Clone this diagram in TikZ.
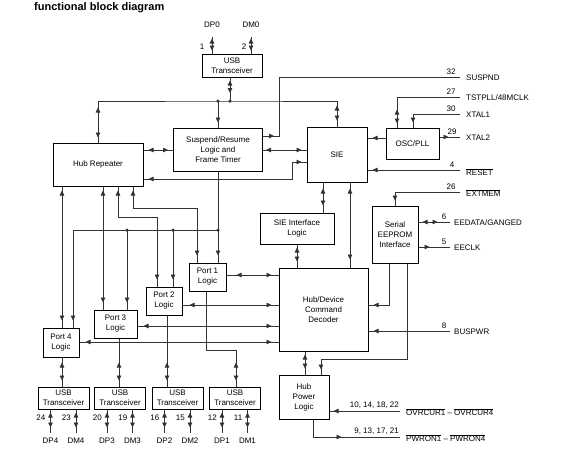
\documentclass[tikz,border=0pt]{standalone}
\usepackage{fontspec}
\setmainfont{Liberation Sans}
\usetikzlibrary{arrows.meta, decorations.markings}

\begin{document}
\begin{tikzpicture}[
    x=1pt, y=-1pt,
    font=\fontsize{8}{10}\selectfont,
    box/.style={draw, line width=1pt, align=center, inner sep=1pt},
    portbox/.style={box, minimum width=37, minimum height=28},
    xcvr/.style={box, minimum width=51, minimum height=22},
    wire/.style={draw=black!80, line width=0.75pt},
    fwd/.style={postaction={decorate, decoration={markings, mark=at position #1 with {\arrow{Triangle[length=5pt, width=4.5pt]}}}}},
    bwd/.style={postaction={decorate, decoration={markings, mark=at position #1 with {\arrowreversed{Triangle[length=5pt, width=4.5pt]}}}}},
    jdot/.style={circle, fill=black!80, inner sep=0pt, minimum size=3.5pt},
    lbl/.style={inner sep=1pt},
]
\useasboundingbox (0,0) rectangle (565,467);

\node[lbl, anchor=base west, font=\fontsize{11}{13}\selectfont\bfseries] (title) at (33,10) {functional block diagram};

\node[box, minimum width=60, minimum height=23] (usb0) at (232,65.5) {USB\\Transceiver};
\node[box, minimum width=90, minimum height=43] (hubrep) at (98,164.5) {Hub Repeater};
\node[box, minimum width=89, minimum height=43] (susp) at (218,149.5) {Suspend/Resume\\Logic and\\Frame Timer};
\node[box, minimum width=60, minimum height=55] (sie) at (337,154.5) {SIE};
\node[box, minimum width=53, minimum height=31] (osc) at (412.5,143.5) {OSC/PLL};
\node[box, minimum width=46, minimum height=57] (eeprom) at (395,234.5) {Serial\\EEPROM\\Interface};
\node[box, minimum width=74, minimum height=31] (sieif) at (297,228.5) {SIE Interface\\Logic};
\node[box, minimum width=89, minimum height=83] (hubdev) at (323.5,309.5) {Hub/Device\\Command\\Decoder};
\node[box, minimum width=50, minimum height=44] (hubpwr) at (304,397) {Hub\\Power\\Logic};

\node[portbox] (port1) at (207.5,277) {Port 1\\Logic};
\node[portbox, minimum width=36] (port2) at (164,301) {Port 2\\Logic};
\node[portbox, minimum width=43] (port3) at (115.5,324) {Port 3\\Logic};
\node[portbox, minimum width=36, minimum height=29] (port4) at (61,342.5) {Port 4\\Logic};

\foreach \p/\cx/\np/\nm in {4/63.5/24/23, 3/120/20/19, 2/177.5/16/15, 1/235/12/11} {
    \node[xcvr] (usb\p) at (\cx,398) {USB\\Transceiver};
    \draw[wire, bwd=3pt, fwd=-5pt] ([xshift=-13pt]usb\p.south) -- ++(0,23) coordinate (dp\p);
    \draw[wire, bwd=3pt, fwd=-5pt] ([xshift=12.5pt]usb\p.south) -- ++(0,23) coordinate (dm\p);
    \node[lbl, below=4pt] (ldp\p) at (dp\p) {DP\p};
    \node[lbl, below=4pt] (ldm\p) at (dm\p) {DM\p};
    \node[lbl, anchor=east] (ndp\p) at ([xshift=-17pt, yshift=-8pt]usb\p.south) {\np};
    \node[lbl, anchor=east] (ndm\p) at ([xshift=8.5pt, yshift=-8pt]usb\p.south) {\nm};
}

% upstream port
\draw[wire, bwd=3pt, fwd=-2pt] ([xshift=-20pt]usb0.north) -- ++(0,-17) coordinate (dp0);
\draw[wire, bwd=3pt, fwd=-2pt] ([xshift=19pt]usb0.north) -- ++(0,-17) coordinate (dm0);
\node[lbl, above=8pt] (ldp0) at (dp0) {DP0};
\node[lbl, above=8pt] (ldm0) at (dm0) {DM0};
\node[lbl] (ndp0) at (202,47) {1};
\node[lbl] (ndm0) at (244,47) {2};

\coordinate (jt) at (230,101);
\coordinate (js) at (218,101);
\draw[wire, bwd=3pt, fwd=-8pt] (usb0.south -| jt) -- (jt);
\draw[wire, bwd=5pt, fwd=35pt, bwd=-21pt, fwd=-6pt] (hubrep.north) |- (jt) -| (sie.north);
\draw[wire, fwd=-5pt] (js) -- (susp.north);
\node[jdot] (d1) at (jt) {};
\node[jdot] (d2) at (js) {};

\draw[wire, bwd=5pt, fwd=-5pt] (hubrep.east |- 0,150) -- (susp.west |- 0,150);
\draw[wire, bwd=3pt, fwd=-5pt] (susp.east |- 0,150) -- (sie.west |- 0,150);
\draw[wire, bwd=5pt, fwd=-5pt] (sie.west |- 0,162) -| (292,179) -- (hubrep.east |- 0,179);

% suspend bus to the ports
\coordinate (jb) at (susp.south |- 0,230);
\draw[wire, fwd=-7pt] (susp.south) -- (susp.south |- port1.north);
\draw[wire, fwd=-7pt] (jb) -| (port4.north -| 73,0);
\draw[wire, fwd=-7pt] (jb -| 127,0) -- (port3.north -| 127,0);
\draw[wire, fwd=-7pt] (jb -| 173,0) -- (port2.north -| 173,0);
\node[jdot] (d3) at (jb) {};
\node[jdot] (d4) at (jb -| 127,0) {};
\node[jdot] (d5) at (jb -| 173,0) {};

\draw[wire, bwd=4pt, fwd=-7pt] (hubrep.south -| 62,0) -- (port4.north -| 62,0);
\draw[wire, bwd=4pt, fwd=-7pt] (hubrep.south -| 103,0) -- (port3.north -| 103,0);
\draw[wire, bwd=4pt, fwd=-7pt] (hubrep.south -| 118,0) |- (157,217) -- (port2.north -| 157,0);
\draw[wire, bwd=4pt, fwd=-7pt] (hubrep.south -| 133,0) |- (197,208) -- (port1.north -| 197,0);

\draw[wire, bwd=10pt, fwd=-7pt] (port1.east |- 0,275) -- (hubdev.west |- 0,275);
\draw[wire, bwd=7pt, fwd=-7pt] (port2.east |- 0,305) -- (hubdev.west |- 0,305);
\draw[wire, bwd=6pt, fwd=-7pt] (port3.east |- 0,326) -- (hubdev.west |- 0,326);
\draw[wire, bwd=6pt, fwd=-7pt] (port4.east |- 0,342) -- (hubdev.west |- 0,342);

\draw[wire, bwd=-24pt, fwd=-6pt] (port4.south -| 62,0) -- (usb4.north -| 62,0);
\draw[wire, bwd=-24pt, fwd=-6pt] (port3.south -| 119,0) -- (usb3.north -| 119,0);
\draw[wire, bwd=-24pt, fwd=-6pt] (port2.south -| 167,0) -- (usb2.north -| 167,0);
\draw[wire, bwd=-24pt, fwd=-6pt] (port1.south -| 206,0) |- (236,350) -- (usb1.north -| 236,0);

% SIE side
\draw[wire, bwd=6pt, fwd=-7pt] (sie.south -| 323,0) -- (sieif.north -| 323,0);
\draw[wire, bwd=6pt, fwd=-8pt] (sie.south -| 350,0) -- (hubdev.north -| 350,0);
\draw[wire, bwd=3pt, fwd=-6pt] (sieif.south) -- (sieif.south |- hubdev.north);
\draw[wire, fwd=-5pt] (osc.west |- 0,138) -- (sie.east |- 0,138);

\coordinate (suspnd) at (460,77);
\coordinate (tst) at (460,97);
\coordinate (xtal1) at (460,114);
\coordinate (xtal2) at (460,137);
\coordinate (rst) at (460,170);
\coordinate (extmem) at (460,192);
\draw[wire, fwd=11pt] (susp.east |- 0,136) -| (279,77) -- (suspnd);
\draw[wire, bwd=-18pt, fwd=-4pt] (tst) -| (osc.north -| 397,0);
\draw[wire, fwd=-5pt] (xtal1) -| (osc.north -| 413,0);
\draw[wire, fwd=9pt] (osc.east |- xtal2) -- (xtal2);
\draw[wire, fwd=-5pt] (rst) -- (sie.east |- rst);
\draw[wire, fwd=-5pt] (extmem) -| (eeprom.north);

\node[lbl, anchor=south] (n32) at (451,76) {32};
\node[lbl, anchor=south] (n27) at (451,96) {27};
\node[lbl, anchor=south] (n30) at (451,113) {30};
\node[lbl, anchor=south] (n29) at (452,136) {29};
\node[lbl, anchor=south] (n4) at (452,169) {4};
\node[lbl, anchor=south] (n26) at (451,191) {26};
\node[lbl, anchor=west] (lsuspnd) at (465,78) {SUSPND};
\node[lbl, anchor=west] (ltst) at (465,98) {TSTPLL/48MCLK};
\node[lbl, anchor=west] (lxtal1) at (465,115) {XTAL1};
\node[lbl, anchor=west] (lxtal2) at (465,138) {XTAL2};
\node[lbl, anchor=west] (lrst) at (465,172) {$\overline{\mbox{RESET}}$};
\node[lbl, anchor=west] (lextmem) at (465,193) {$\overline{\mbox{EXTMEM}}$};

% EEPROM and power
\coordinate (eedata) at (450,222);
\coordinate (eeclk) at (450,247);
\coordinate (buspwr) at (450,331);
\draw[wire, bwd=4pt, fwd=19pt] (eeprom.east |- eedata) -- (eedata);
\draw[wire, fwd=11pt] (eeprom.east |- eeclk) -- (eeclk);
\draw[wire, fwd=-5pt] (eeprom.south -| 389,0) |- (hubdev.east |- 0,305);
\draw[wire, fwd=-5pt] (eeprom.south -| 407,0) |- (321,359) -- (hubpwr.north -| 321,0);
\draw[wire, fwd=-5pt] (buspwr) -- (hubdev.east |- buspwr);
\node[lbl, anchor=south] (n6) at (444,221) {6};
\node[lbl, anchor=south] (n5) at (444,246) {5};
\node[lbl, anchor=south] (n8) at (444,330) {8};
\node[lbl, anchor=west] (leedata) at (453,223) {EEDATA/GANGED};
\node[lbl, anchor=west] (leeclk) at (453,248) {EECLK};
\node[lbl, anchor=west] (lbuspwr) at (453,332) {BUSPWR};

\coordinate (ovr) at (400,411);
\coordinate (pwron) at (400,437);
\draw[wire, bwd=3pt, fwd=-6pt] (hubdev.south -| 305,0) -- (hubpwr.north -| 305,0);
\draw[wire, fwd=-4pt] (ovr) -- (hubpwr.east |- ovr);
\draw[wire, fwd=46pt] (hubpwr.south -| 313,0) |- (pwron);
\node[lbl, anchor=south east] (novr) at (400,410) {10, 14, 18, 22};
\node[lbl, anchor=south east] (npwron) at (400,436) {9, 13, 17, 21};
\node[lbl, anchor=west] (lovr) at (405,412) {$\overline{\mbox{OVRCUR1}}$ -- $\overline{\mbox{OVRCUR4}}$};
\node[lbl, anchor=west] (lpwron) at (405,438) {$\overline{\mbox{PWRON1}}$ -- $\overline{\mbox{PWRON4}}$};
\end{tikzpicture}
\end{document}
